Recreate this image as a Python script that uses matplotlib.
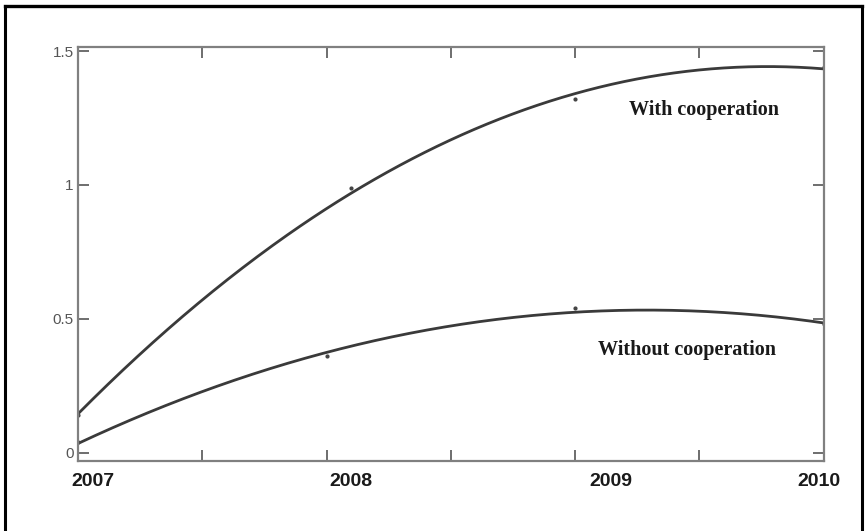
import matplotlib
matplotlib.use("Agg")
import matplotlib.pyplot as plt
from matplotlib.lines import Line2D
import numpy as np

# observed points for each case
years_with = [2007.0, 2008.1, 2009.0, 2010.0]
with_coop = [0.14, 0.99, 1.32, 1.44]
years_without = [2007.0, 2008.0, 2009.0, 2010.0]
without_coop = [0.04, 0.36, 0.54, 0.48]

year_labels = ["2007", "2008", "2009", "2010"]
year_label_x = [2007.06, 2008.10, 2009.145, 2009.98]
y_ticks = [0, 0.5, 1, 1.5]
y_tick_labels = ["0", "0.5", "1", "1.5"]

fig = plt.figure(figsize=(8.67, 5.31), dpi=100)
ax = fig.add_axes([0.090, 0.132, 0.860, 0.7795])

curve_col = "#3a3a3a"
xx = np.linspace(2007, 2010, 300)
for xs, ys in [(years_with, with_coop), (years_without, without_coop)]:
    coef = np.polyfit(np.array(xs) - 2007, ys, 2)
    ax.plot(xx, np.polyval(coef, xx - 2007), color=curve_col, lw=2.0)
    ax.plot(xs, ys, ".", color="#444444", ms=4)

ax.set_xlim(2007, 2010)
ax.set_ylim(-0.03, 1.515)
ax.set_xticks(np.arange(2007, 2010.01, 0.5))
ax.set_xticklabels([])
ax.set_yticks(y_ticks)
ax.set_yticklabels(y_tick_labels, fontsize=11, color="#555555",
                   family="Liberation Sans")
ax.tick_params(direction="in", length=8, width=1.2, color="#555555",
               top=True, right=True, pad=3)
for s in ax.spines.values():
    s.set_color("#808080")
    s.set_linewidth(1.6)

for x, lab in zip(year_label_x, year_labels):
    ax.text(x, -0.075, lab, ha="center", va="top", fontsize=14,
            fontweight="bold", family="Liberation Sans", color="#1a1a1a")

ax.text(2009.52, 1.28, "With cooperation", ha="center", va="center",
        fontsize=14.5, fontweight="bold", family="Liberation Serif",
        color="#1a1a1a")
ax.text(2009.45, 0.385, "Without cooperation", ha="center", va="center",
        fontsize=14.5, fontweight="bold", family="Liberation Serif",
        color="#1a1a1a")

# outer frame around the figure
fig.add_artist(Line2D([0.006, 0.006], [0.0, 0.988], color="black", lw=2.2))
fig.add_artist(Line2D([0.994, 0.994], [0.0, 0.988], color="black", lw=2.2))
fig.add_artist(Line2D([0.006, 0.994], [0.988, 0.988], color="black", lw=2.4))

fig.savefig("out.png", dpi=100, facecolor="white")
